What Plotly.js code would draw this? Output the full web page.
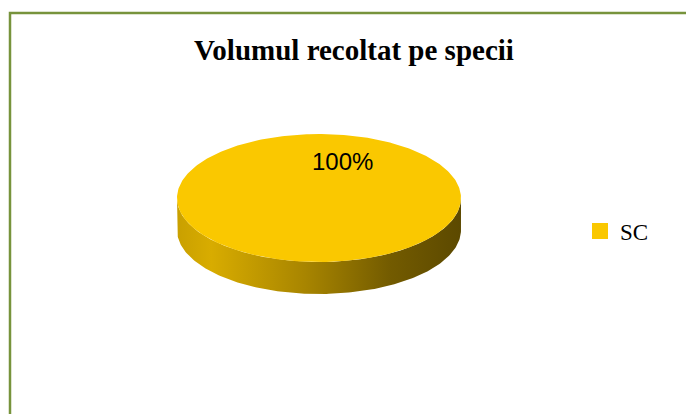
<!DOCTYPE html>
<html>
<head>
<meta charset="utf-8">
<script src="https://cdn.plot.ly/plotly-3.0.1.min.js"></script>
<style>
  html, body { margin: 0; padding: 0; background: #ffffff; }
  #chart { width: 686px; height: 414px; }
</style>
</head>
<body>
<div id="chart"></div>
<script>
// ---- data ----
const categories = ['SC'];
const values = [100];
const sliceColors = ['#FAC800'];
const chartTitle = 'Volumul recoltat pe specii';

// ---- geometry / style (3D pie look, Excel-like) ----
const CX = 319, CY = 198, RX = 142, RY = 64, DEPTH = 32;
const sideScale = [[0, '#C9A000'], [0.12, '#D8AC00'], [0.45, '#A88500'], [0.75, '#735B00'], [1, '#5C4900']];

const total = values.reduce((a, b) => a + b, 0);
const traces = [];
const sides = [];
const tops = [];
let acc = 0;
function arcPts(t0, t1, cy) {
  const xs = [], ys = [];
  const n = Math.max(2, Math.ceil((t1 - t0) / (Math.PI / 180)));
  for (let i = 0; i <= n; i++) {
    const t = t0 + (t1 - t0) * i / n;
    xs.push(CX + RX * Math.cos(t));
    ys.push(cy + RY * Math.sin(t));
  }
  return [xs, ys];
}
categories.forEach((cat, i) => {
  const share = values[i] / total;
  const a0 = -Math.PI / 2 + 2 * Math.PI * acc;
  const a1 = -Math.PI / 2 + 2 * Math.PI * (acc + share);
  acc += share;
  // top face
  const [tx, ty] = arcPts(a0, a1, CY);
  tops.push({
    type: 'scatter', mode: 'lines', x: [CX].concat(tx, [CX]), y: [CY].concat(ty, [CY]),
    fill: 'toself', fillcolor: sliceColors[i], line: {width: 0}, showlegend: false, hoverinfo: 'skip'
  });
  // front side (visible part: angles in [0, PI])
  const lo = Math.max(a0, 0), hi = Math.min(a1, Math.PI);
  if (hi > lo) {
    const [ux, uy] = arcPts(lo, hi, CY);
    const [bx, by] = arcPts(lo, hi, CY + DEPTH);
    sides.push({
      type: 'scatter', mode: 'lines',
      x: ux.concat(bx.slice().reverse(), [ux[0]]),
      y: uy.concat(by.slice().reverse(), [uy[0]]),
      fill: 'toself', line: {width: 0},
      fillgradient: {type: 'horizontal', start: CX - RX, stop: CX + RX, colorscale: sideScale},
      showlegend: false, hoverinfo: 'skip'
    });
  }
});
traces.push(...sides, ...tops);
// legend entries
categories.forEach((cat, i) => {
  traces.push({
    type: 'scatter', mode: 'markers', x: [null], y: [null], name: cat,
    marker: {symbol: 'square', size: 16, color: sliceColors[i]}, showlegend: true
  });
});

const annotations = categories.map((cat, i) => ({
  x: 342, y: 161, xref: 'x', yref: 'y', showarrow: false,
  text: Math.round(values[i] / total * 100) + '%',
  font: {family: 'Liberation Sans, Arial, sans-serif', size: 24, color: '#000000'}
}));

const layout = {
  width: 686, height: 414,
  margin: {l: 0, r: 0, t: 0, b: 0},
  paper_bgcolor: '#ffffff', plot_bgcolor: '#ffffff',
  title: {
    text: '<b>' + chartTitle + '</b>',
    font: {family: 'Liberation Serif, Times New Roman, serif', size: 29, color: '#000000'},
    x: 354 / 686, xanchor: 'center', xref: 'paper',
    y: 1 - 50 / 414, yanchor: 'middle', yref: 'container'
  },
  xaxis: {range: [0, 686], visible: false, fixedrange: true},
  yaxis: {range: [414, 0], visible: false, fixedrange: true},
  showlegend: true,
  legend: {
    x: 580 / 686, xanchor: 'left', y: 1 - 231 / 414, yanchor: 'middle',
    font: {family: 'Liberation Serif, Times New Roman, serif', size: 23, color: '#000000'},
    bgcolor: 'rgba(0,0,0,0)', itemwidth: 30
  },
  shapes: [{
    type: 'rect', xref: 'x', yref: 'y', x0: 10, y0: 13, x1: 700, y1: 430,
    line: {color: '#77933C', width: 2.5}, fillcolor: 'rgba(0,0,0,0)', layer: 'below'
  }],
  annotations: annotations,
  hovermode: false
};

Plotly.newPlot('chart', traces, layout, {displayModeBar: false, staticPlot: true});
</script>
</body>
</html>
